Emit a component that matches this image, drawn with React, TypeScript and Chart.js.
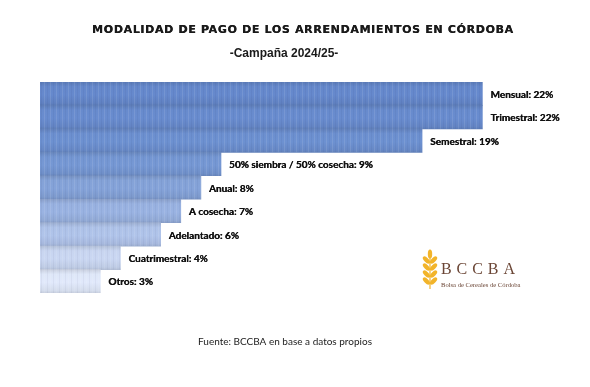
import React, { useEffect, useRef } from "react";
import { Chart, registerables } from "chart.js";

Chart.register(...registerables);

const categories = [
  "Mensual",
  "Trimestral",
  "Semestral",
  "50% siembra / 50% cosecha",
  "Anual",
  "A cosecha",
  "Adelantado",
  "Cuatrimestral",
  "Otros",
];
const values = [22, 22, 19, 9, 8, 7, 6, 4, 3];
const barColors = [
  "#6284c5",
  "#6587c7",
  "#698bc9",
  "#7192cc",
  "#809dd1",
  "#94acd9",
  "#a9bce1",
  "#c2cfe9",
  "#d8e0f1",
];
const titleText = "MODALIDAD DE PAGO DE LOS ARRENDAMIENTOS EN CÓRDOBA";
const subtitleText = "-Campaña 2024/25-";
const sourceText = "Fuente: BCCBA en base a datos propios";
const logoText = "BCCBA";
const logoSubText = "Bolsa de Cereales de Córdoba";

function shade(hex: string, f: number): string {
  const n = parseInt(hex.slice(1), 16);
  const r = Math.round(((n >> 16) & 255) * f);
  const g = Math.round(((n >> 8) & 255) * f);
  const b = Math.round((n & 255) * f);
  return `rgb(${Math.min(255, r)},${Math.min(255, g)},${Math.min(255, b)})`;
}

const decorPlugin = {
  id: "decor",
  afterDatasetsDraw(chart: any) {
    const ctx = chart.ctx as CanvasRenderingContext2D;
    const meta = chart.getDatasetMeta(0);
    ctx.save();
    // subtle vertical stripe texture on bars
    meta.data.forEach((bar: any) => {
      const top = bar.y - bar.height / 2;
      const left = bar.base;
      const right = bar.x;
      for (let x = left + 1; x < right; x += 3) {
        ctx.fillStyle = (Math.floor(x) % 2 === 0) ? "rgba(255,255,255,0.10)" : "rgba(0,0,40,0.04)";
        ctx.fillRect(x, top, 1, bar.height);
      }
    });
    // value labels
    ctx.fillStyle = "#111";
    ctx.font = "bold 10px Lato";
    ctx.textBaseline = "middle";
    ctx.textAlign = "left";
    meta.data.forEach((bar: any, i: number) => {
      const t = `${categories[i]}: ${values[i]}%`;
      ctx.fillText(t, bar.x + 8, bar.y + 1);
      ctx.fillText(t, bar.x + 8.35, bar.y + 1);
    });
    ctx.restore();
  },
  afterDraw(chart: any) {
    const ctx = chart.ctx as CanvasRenderingContext2D;
    ctx.save();
    // title with letter spacing fitted to width
    ctx.fillStyle = "#1a1a1a";
    ctx.font = "bold 11px 'DejaVu Sans'";
    ctx.textBaseline = "middle";
    ctx.textAlign = "left";
    (ctx as any).letterSpacing = "0px";
    const w0 = ctx.measureText(titleText).width;
    const targetW = 421;
    const sp = (targetW - w0) / (titleText.length - 1);
    (ctx as any).letterSpacing = `${sp}px`;
    ctx.fillText(titleText, 92, 30);
    ctx.fillText(titleText, 92.3, 30);
    (ctx as any).letterSpacing = "0px";

    // subtitle
    ctx.font = "bold 12px 'Liberation Sans'";
    ctx.textAlign = "center";
    ctx.fillText(subtitleText, 284, 54);

    // source
    ctx.font = "10px Lato";
    ctx.fillStyle = "#222";
    ctx.fillText(sourceText, 285, 342);

    // logo wheat
    const cx = 430;
    ctx.fillStyle = "#f2b42a";
    ctx.strokeStyle = "#f2b42a";
    ctx.lineWidth = 1.2;
    ctx.beginPath();
    ctx.moveTo(cx, 289);
    ctx.lineTo(cx, 256);
    ctx.stroke();
    const grain = (x: number, y: number, rot: number) => {
      ctx.beginPath();
      ctx.ellipse(x, y, 2.2, 4.6, rot, 0, Math.PI * 2);
      ctx.fill();
    };
    grain(cx, 254, 0);
    [260, 267, 274, 281].forEach((y) => {
      grain(cx - 3.6, y, -0.75);
      grain(cx + 3.6, y, 0.75);
    });

    // logo text
    ctx.fillStyle = "#6b4636";
    ctx.font = "16px 'Liberation Serif'";
    ctx.textAlign = "left";
    ctx.textBaseline = "alphabetic";
    (ctx as any).letterSpacing = "0px";
    const lw = ctx.measureText(logoText).width;
    (ctx as any).letterSpacing = `${(74 - lw) / (logoText.length - 1)}px`;
    ctx.fillText(logoText, 441, 274);
    (ctx as any).letterSpacing = "0px";
    ctx.font = "6.6px 'Liberation Serif'";
    ctx.fillText(logoSubText, 441, 287);
    ctx.restore();
  },
};

export default function App() {
  const ref = useRef<HTMLCanvasElement | null>(null);
  useEffect(() => {
    if (!ref.current) return;
    const chart = new Chart(ref.current, {
      type: "bar",
      data: {
        labels: categories,
        datasets: [
          {
            data: values,
            backgroundColor: (c: any) => {
              const chartObj = c.chart;
              const area = chartObj.chartArea;
              const base = barColors[c.dataIndex] || barColors[0];
              if (!area) return base;
              const ys = chartObj.scales.y;
              const y = ys.getPixelForValue(c.dataIndex);
              const h = (area.bottom - area.top) / categories.length;
              const g = chartObj.ctx.createLinearGradient(0, y - h / 2, 0, y + h / 2);
              g.addColorStop(0, shade(base, 0.93));
              g.addColorStop(0.2, shade(base, 1.03));
              g.addColorStop(0.55, shade(base, 1.04));
              g.addColorStop(0.9, shade(base, 0.98));
              g.addColorStop(1, shade(base, 0.92));
              return g;
            },
            borderWidth: 0,
            categoryPercentage: 1,
            barPercentage: 1,
          },
        ],
      },
      options: {
        indexAxis: "y",
        responsive: false,
        animation: false,
        layout: { padding: { left: 40, right: 7, top: 82, bottom: 94 } },
        scales: {
          x: { display: false, min: 0, max: 27 },
          y: { display: false },
        },
        plugins: {
          legend: { display: false },
          tooltip: { enabled: false },
          title: { display: false },
        },
      },
      plugins: [decorPlugin],
    });
    return () => chart.destroy();
  }, []);
  return (
    <div style={{ position: "fixed", left: 0, top: 0, width: 590, height: 387, background: "#fff" }}>
      <canvas ref={ref} width={590} height={387} style={{ display: "block" }} />
    </div>
  );
}
